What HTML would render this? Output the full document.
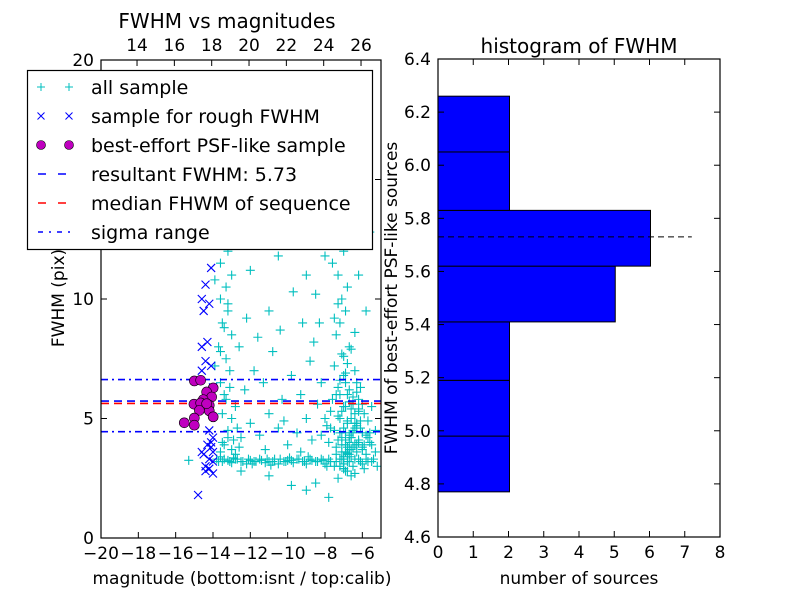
<!DOCTYPE html>
<html><head><meta charset="utf-8"><style>
body{margin:0;background:#fff;}
svg{display:block;font-family:"DejaVu Sans","Liberation Sans",sans-serif;}
</style></head><body>
<svg id="c" width="800" height="600" xmlns="http://www.w3.org/2000/svg"></svg>
<script>
// ---- data ----
const allMag = [-13.8,-13.5,-13.2,-13.0,-12.7,-12.5,-12.2,-12.0,-11.7,-11.5,-11.2,-11.0,-10.7,-10.5,-10.2,-10.0,-9.7,-9.5,-9.2,-9.0,-8.7,-8.5,-8.2,-8.0,-7.7,-7.5,-7.2,-7.0,-6.7,-6.5,-6.2,-6.0,-5.7,-5.4,-5.2,-13.6,-12.9,-11.9,-10.9,-9.9,-8.9,-7.9,-6.9,-6.4,-5.9,
-9.8,-9.0,-8.5,-7.8,-11.0,-12.5,-7.3,-6.6,-15.3,
-7.8,-7.5,-7.2,-7.0,-6.8,-6.6,-6.4,-6.2,-6.0,-5.8,-7.6,-7.3,-7.0,-6.9,-6.7,-6.5,-6.3,-6.1,-5.9,-5.6,-7.9,-7.4,-7.1,-6.8,-6.6,-6.3,-6.0,-5.7,-7.7,-7.2,-6.9,-6.4,-6.2,-5.5,-5.3,-8.2,-8.0,-7.5,-7.0,-6.7,-7.4,-7.2,-6.9,-7.1,-6.8,-7.3,-7.6,-7.0,-6.2,-5.8,-8.3,-8.5,-8.0,-9.0,-6.5,-7.0,-5.6,
-13.5,-13.2,-13.0,-12.8,-13.4,-13.6,-13.1,-13.3,-13.7,-13.0,-13.5,-13.2,-13.6,-13.3,-13.0,-13.6,-13.2,-13.8,-13.5,-13.1,-13.6,-13.3,-13.7,-13.4,-13.9,-13.9,
-12.5,-12.0,-11.5,-11.0,-10.5,-10.0,-9.5,-9.0,-8.7,-12.3,-11.8,-11.3,-10.8,-10.3,-9.8,-9.3,-8.8,-12.6,-12.2,-11.6,-11.0,-10.4,-9.7,-9.2,-8.6,-12.0,-11.3,-10.5,-9.5,-12.4,-10.8,-11.8,-9.8,-12.8,-12.6,-11.2,-10.2,-9.3,-8.4,-8.2,
-7.4,-7.1,-6.9,-6.6,-6.3,-6.0,-5.8,-7.7,-7.3,-6.7,-6.2,-5.6,-7.0,-6.5,-6.8,
-7.0,-6.9,-6.8,-6.7,-6.6,-6.5,-6.4,-6.3,-7.1,-6.9,-6.7,-6.5,-6.3,-6.1,-7.2,-7.0,-6.8,-6.6,-6.4,-6.2,-6.0,-7.3,-7.1,-6.9,-6.7,-6.5,-6.3,-6.1,-5.9,-7.0,-6.8,-6.6,-6.4,-6.2,-5.7,-5.5,-5.3,-7.4,-7.2,-6.8,-6.6,-6.4,-7.5,-7.3,-7.1,-6.9,-6.7,-7.2,-7.0,-6.8,
-13.7,-13.4,-13.1,-12.8,-12.4,-12.1,-11.8,-11.4,-11.1,-10.8,-10.4,-10.1,-9.8,-9.4,-9.1,-8.8,-8.4,-8.1,-7.8,-7.4,-7.1,-6.8,-6.4,-6.1,-5.8,-5.5,
-13.6,-13.4,-13.2,-13.5,-13.3,-13.1,-13.6,-13.4,-13.2,-12.9,-12.7,-13.0,-12.8];
const allFwhm = [3.3,3.2,3.25,3.15,3.3,3.2,3.1,3.25,3.2,3.3,3.15,3.2,3.3,3.1,3.2,3.25,3.15,3.3,3.2,3.1,3.25,3.2,3.3,3.1,3.2,3.0,3.3,3.1,3.2,3.0,3.3,3.1,3.2,3.3,3.0,3.4,3.35,3.1,3.05,3.35,3.4,3.0,2.8,2.7,2.9,
2.2,2.0,2.3,1.7,2.6,2.8,2.5,2.6,3.25,
4.0,4.5,5.0,5.5,6.0,4.2,4.8,5.3,3.8,4.3,5.8,6.3,6.8,4.4,3.7,5.6,6.5,4.6,5.2,4.0,4.7,3.8,4.2,4.9,5.4,3.9,4.4,4.9,5.3,6.0,6.5,7.0,5.8,5.5,4.5,4.3,5.0,7.2,7.6,8.0,8.5,9.0,9.5,10.0,10.5,11.0,11.5,12.0,11.0,9.5,9.0,10.2,11.8,11.0,13.5,14.0,12.8,
4.0,4.5,5.0,5.5,6.0,6.5,7.0,7.5,8.0,8.5,9.0,9.5,10.0,10.5,11.0,11.5,12.0,12.5,13.0,13.5,14.0,15.0,16.0,17.0,10.8,7.2,
4.2,4.8,4.3,5.2,4.6,3.9,4.4,5.0,4.1,6.2,7.0,6.5,7.8,5.8,6.8,6.0,7.4,8.0,9.2,8.4,9.5,8.7,10.3,9.0,8.2,11.2,12.5,11.8,12.6,13.3,14.5,15.2,13.9,16.3,3.8,3.7,4.9,3.6,5.6,6.5,
3.5,3.6,3.9,3.4,3.6,3.7,3.5,4.6,4.1,3.5,4.0,4.4,2.9,3.8,3.55,
3.4,3.6,3.8,4.0,4.2,4.4,4.6,4.8,3.9,4.1,4.3,4.5,4.7,4.9,4.4,4.6,4.8,5.0,5.2,5.4,5.6,5.1,5.3,5.5,5.7,5.9,6.1,6.3,3.9,3.3,3.5,3.7,3.9,4.1,4.2,3.9,3.6,6.0,6.6,7.3,7.9,8.6,9.2,9.8,7.7,6.9,6.2,3.0,2.9,2.8,
3.2,3.3,3.2,3.3,3.2,3.3,3.2,3.25,3.3,3.2,3.3,3.2,3.25,3.3,3.2,3.3,3.2,3.25,3.3,3.2,3.3,3.2,3.3,3.2,3.3,3.2,
3.6,3.9,4.2,5.2,5.8,6.3,7.8,8.8,9.8,4.1,4.6,3.7,3.5];
const roughMag = [-14.8,-14.4,-14.2,-14.0,-14.5,-14.1,-14.3,-14.0,-14.6,-14.2,-14.1,-14.4,-14.6,-14.3,-14.5,-14.2,-14.6,-14.4,-14.1,-14.5,-14.2,-14.4,-14.3,-14.1,-14.6,-14.0,-14.0,-14.2,-14.4,-14.0,-14.1];
const roughFwhm = [1.8,3.0,2.9,3.2,3.5,3.8,3.9,4.2,3.6,4.5,7.2,7.4,7.0,8.2,9.5,9.8,10.0,10.6,11.3,12.5,13.1,13.3,17.0,17.1,8.0,6.3,2.7,3.3,2.8,3.6,4.0];
const psfMag = [-15.0,-14.66,-13.99,-14.34,-14.07,-14.52,-15.02,-14.66,-14.2,-14.73,-14.2,-13.99,-15.0,-15.0,-15.54,-14.34];
const psfFwhm = [6.57,6.6,6.28,6.11,5.9,5.79,5.6,5.65,5.55,5.34,5.32,5.07,5.02,4.72,4.82,5.62];
const resultFwhm = 5.73, medianFwhm = 5.63, sigmaLo = 4.45, sigmaHi = 6.63;
const xTicks = [-20,-18,-16,-14,-12,-10,-8,-6];
const xTickLabels = ["\u221220","\u221218","\u221216","\u221214","\u221212","\u221210","\u22128","\u22126"];
const yTicks = [0,5,10,15,20];
const topTicks = [14,16,18,20,22,24,26];
const calibOffset = 32.07;
const binEdges = [4.77,4.98,5.19,5.41,5.62,5.83,6.05,6.26];
const counts = [2,2,2,5,6,2,2];
const hxTicks = [0,1,2,3,4,5,6,7,8];
const hyTicks = [4.6,4.8,5.0,5.2,5.4,5.6,5.8,6.0,6.2,6.4];

const NS="http://www.w3.org/2000/svg", svg=document.getElementById('c');
function mk(tag, at, parent){const e=document.createElementNS(NS,tag);for(const k in at)e.setAttribute(k,at[k]);(parent||svg).appendChild(e);return e;}
function txt(s,x,y,size,anchor,parent){const t=mk('text',{x:x,y:y,'font-size':size,'text-anchor':anchor||'middle',fill:'#000'},parent);t.textContent=s;return t;}

// left axes
const L={x0:101,x1:381,y0:538,y1:60};
const sx=v=>L.x0+(v+20)/15*(L.x1-L.x0);
const sy=v=>L.y0-v/20*(L.y0-L.y1);
mk('defs',{}).innerHTML='<clipPath id="lc"><rect x="101" y="60" width="280" height="478"/></clipPath>';
const plot=mk('g',{'clip-path':'url(#lc)'});



const gAll=mk('g',{stroke:'#00bfbf','stroke-width':1.1},plot);


allMag.forEach((m,i)=>{const x=sx(m),y=sy(allFwhm[i]);mk('path',{d:`M${x-4.5},${y}H${x+4.5}M${x},${y-4.5}V${y+4.5}`},gAll);});
const gR=mk('g',{stroke:'#0000ff','stroke-width':1.1},plot);


roughMag.forEach((m,i)=>{const x=sx(m),y=sy(roughFwhm[i]);mk('path',{d:`M${x-4},${y-4}L${x+4},${y+4}M${x-4},${y+4}L${x+4},${y-4}`},gR);});
function hline(v,color,dash,name){const l=mk('line',{x1:L.x0,x2:L.x1,y1:sy(v),y2:sy(v),stroke:color,'stroke-width':1.6,'stroke-dasharray':dash},plot);

}
hline(sigmaHi,'#0000ff','7 4 2 4','sigma-upper-line');
hline(sigmaLo,'#0000ff','7 4 2 4','sigma-lower-line');
hline(medianFwhm,'#ff0000','8 5','median-fwhm-line');
hline(resultFwhm,'#0000ff','8 5','resultant-fwhm-line');
const gP=mk('g',{fill:'#bf00bf',stroke:'#000','stroke-width':0.6},plot);


psfMag.forEach((m,i)=>{mk('circle',{cx:sx(m),cy:sy(psfFwhm[i]),r:5},gP);});

mk('rect',{x:L.x0,y:L.y1,width:L.x1-L.x0,height:L.y0-L.y1,fill:'none',stroke:'#000','stroke-width':1.2});
xTicks.forEach((v,i)=>{const x=sx(v);mk('line',{x1:x,x2:x,y1:L.y0,y2:L.y0-6,stroke:'#000'});const t=txt(xTickLabels[i],x,L.y0+21,17);

});
yTicks.forEach(v=>{const y=sy(v);mk('line',{x1:L.x0,x2:L.x0+6,y1:y,y2:y,stroke:'#000'});mk('line',{x1:L.x1,x2:L.x1-6,y1:y,y2:y,stroke:'#000'});const t=txt(String(v),L.x0-7,y+6,17,'end');

});
topTicks.forEach(v=>{const x=sx(v-calibOffset);mk('line',{x1:x,x2:x,y1:L.y1,y2:L.y1+6,stroke:'#000'});const t=txt(String(v),x,L.y1-9,17);

});
let t=txt('magnitude (bottom:isnt / top:calib)',242,584,17);


t=txt('FWHM vs magnitudes',227,28,20);


t=txt('FWHM (pix)',0,0,17);t.setAttribute('transform','translate(64,298) rotate(-90)');



// legend
const lg=mk('g',{});


mk('rect',{x:27.5,y:70.5,width:345,height:179,fill:'#fff',stroke:'#000','stroke-width':1.2},lg);
const items=[['all sample','plus'],['sample for rough FWHM','x'],['best-effort PSF-like sample','dot'],['resultant FWHM: 5.73','bdash'],['median FHWM of sequence','rdash'],['sigma range','dashdot']];
items.forEach((it,i)=>{const y=87+i*29;const g=mk('g',{},lg);


[41,69].forEach(x=>{
 if(it[1]=='plus')mk('path',{d:`M${x-4},${y}H${x+4}M${x},${y-4}V${y+4}`,stroke:'#00bfbf'},g);
 if(it[1]=='x')mk('path',{d:`M${x-3.5},${y-3.5}L${x+3.5},${y+3.5}M${x-3.5},${y+3.5}L${x+3.5},${y-3.5}`,stroke:'#0000ff'},g);
 if(it[1]=='dot')mk('circle',{cx:x,cy:y,r:4.5,fill:'#bf00bf',stroke:'#000','stroke-width':0.6},g);});
 if(it[1]=='bdash')mk('line',{x1:38,x2:74,y1:y,y2:y,stroke:'#0000ff','stroke-width':1.6,'stroke-dasharray':'8 12'},g);
 if(it[1]=='rdash')mk('line',{x1:38,x2:74,y1:y,y2:y,stroke:'#ff0000','stroke-width':1.6,'stroke-dasharray':'8 12'},g);
 if(it[1]=='dashdot')mk('line',{x1:38,x2:74,y1:y,y2:y,stroke:'#0000ff','stroke-width':1.6,'stroke-dasharray':'5 6 2 6'},g);
 txt(it[0],91,y+7,19,'start',g);});

// histogram
const R={x0:438,x1:720,y0:537,y1:59};
const hx=v=>R.x0+v/8*(R.x1-R.x0);
const hy=v=>R.y0-(v-4.6)/1.8*(R.y0-R.y1);
counts.forEach((c,i)=>{const r=mk('rect',{x:hx(0),y:hy(binEdges[i+1]),width:hx(c)-hx(0)+1,height:hy(binEdges[i])-hy(binEdges[i+1]),fill:'#0000ff',stroke:'#000','stroke-width':1});

});
const rl=mk('line',{x1:hx(0),x2:hx(7.2),y1:hy(resultFwhm),y2:hy(resultFwhm),stroke:'#000','stroke-dasharray':'6 4'});


mk('rect',{x:R.x0,y:R.y1,width:R.x1-R.x0,height:R.y0-R.y1,fill:'none',stroke:'#000','stroke-width':1.2});
hxTicks.forEach(v=>{const x=hx(v);mk('line',{x1:x,x2:x,y1:R.y0,y2:R.y0-6,stroke:'#000'});mk('line',{x1:x,x2:x,y1:R.y1,y2:R.y1+6,stroke:'#000'});const t=txt(String(v),x,R.y0+21,17);

});
hyTicks.forEach(v=>{const y=hy(v);mk('line',{x1:R.x0,x2:R.x0+6,y1:y,y2:y,stroke:'#000'});mk('line',{x1:R.x1,x2:R.x1-6,y1:y,y2:y,stroke:'#000'});const t=txt(v.toFixed(1),R.x0-7,y+6,17,'end');

});
t=txt('histogram of FWHM',579,53,20);


t=txt('number of sources',579,584,17);


t=txt('FWHM of best-effort PSF-like sources',0,0,17);t.setAttribute('transform','translate(397,298) rotate(-90)');


</script>
</body></html>
